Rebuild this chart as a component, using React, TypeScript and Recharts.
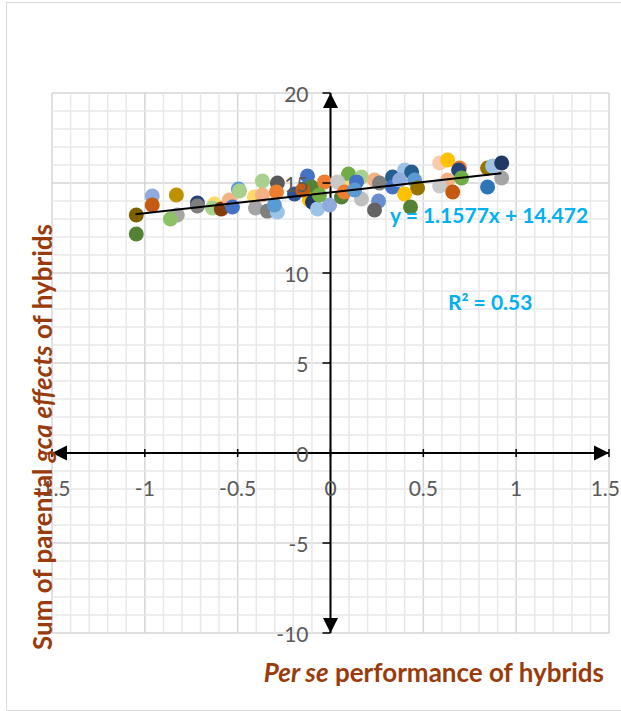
import { ScatterChart, Scatter, XAxis, YAxis, CartesianGrid, ReferenceLine, ReferenceDot } from "recharts";

// per se performance of each hybrid (x) and sum of parental gca effects (y)
const xValues = [
    -1.046, -1.046, -0.96, -0.96, -0.83, -0.825, -0.862, -0.717, -0.717, -0.625,
    -0.636, -0.588, -0.544, -0.528, -0.496, -0.49, -0.367, -0.286, -0.41, -0.367,
    -0.404, -0.34, -0.286, -0.302, -0.291, -0.194, -0.124, -0.102, -0.032, -0.113,
    -0.097, -0.07, -0.005, 0.097, 0.167, 0.097, 0.038, 0.059, 0.167, 0.14,
    0.237, 0.264, 0.259, 0.237, 0.334, 0.399, 0.437, 0.334, 0.372, 0.453,
    0.469, 0.399, 0.431, 0.588, 0.631, 0.695, 0.69, 0.631, 0.588, 0.658,
    0.846, 0.873, 0.922, 0.922, 0.846, -0.06, -0.15, 0.075, 0.13, 0.706
];
const yValues = [
    13.22, 12.17, 14.28, 13.78, 14.33, 13.22, 13.0, 13.89, 13.72, 13.83,
    13.61, 13.56, 14.06, 13.67, 14.67, 14.56, 15.11, 15.0, 14.22, 14.33,
    13.61, 13.44, 13.39, 13.78, 14.5, 14.39, 15.39, 14.78, 15.06, 14.06,
    13.94, 13.56, 13.78, 15.5, 15.33, 14.72, 15.06, 14.22, 14.11, 15.06,
    15.17, 15.0, 14.0, 13.5, 15.33, 15.72, 15.61, 14.78, 15.17, 15.17,
    14.72, 14.39, 13.67, 16.11, 16.28, 15.83, 15.72, 15.17, 14.83, 14.5,
    15.83, 15.94, 16.11, 15.28, 14.78, 14.33, 14.61, 14.5, 14.61, 15.28
];
const pointColors = [
    "#7F6000", "#548235", "#8FAADC", "#C55A11", "#BF9000", "#A5A5A5", "#8CC168", "#264478", "#7F7F7F", "#FFD966",
    "#A9D18E", "#843C0C", "#F4B183", "#4472C4", "#5B9BD5", "#A9D18E", "#A9D18E", "#595959", "#FFD966", "#F4B183",
    "#A5A5A5", "#7F7F7F", "#9DC3E6", "#5B9BD5", "#ED7D31", "#2F5597", "#4472C4", "#548235", "#ED7D31", "#FFC000",
    "#203864", "#9DC3E6", "#8FAADC", "#70AD47", "#A9D18E", "#FFD966", "#C9C9C9", "#548235", "#BFBFBF", "#4472C4",
    "#F4B183", "#7F7F7F", "#698ED0", "#636363", "#255E91", "#9DC3E6", "#255E91", "#4472C4", "#8FAADC", "#5B9BD5",
    "#997300", "#FFC000", "#548235", "#F8CBAD", "#FFC000", "#ED7D31", "#264478", "#F4B183", "#C9C9C9", "#C55A11",
    "#997300", "#9DC3E6", "#203864", "#A5A5A5", "#2E75B6", "#70AD47", "#C55A11", "#ED7D31", "#5B9BD5", "#70AD47"
];

const trendX = [-1.05, 0.92];
const trendY = [13.26, 15.54];

const xTicks = [-1.5, -1, -0.5, 0, 0.5, 1, 1.5];
const xTickLabels = ["-1.5", "-1", "-0.5", "0", "0.5", "1", "1.5"];
const yTicks = [-10, -5, 0, 5, 10, 15, 20];
const yTickLabels = ["-10", "-5", "0", "5", "10", "15", "20"];
const xMinorTicks = [
    -1.4, -1.3, -1.2, -1.1, -0.9, -0.8, -0.7, -0.6, -0.4, -0.3, -0.2, -0.1,
    0.1, 0.2, 0.3, 0.4, 0.6, 0.7, 0.8, 0.9, 1.1, 1.2, 1.3, 1.4
];
const yMinorTicks = [
    -9, -8, -7, -6, -4, -3, -2, -1, 1, 2, 3, 4, 6, 7, 8, 9,
    11, 12, 13, 14, 16, 17, 18, 19
];

const points = xValues.map((x, i) => ({ x, y: yValues[i], color: pointColors[i] }));
const trendPoints = trendX.map((x, i) => ({ x, y: trendY[i] }));

const FONT = "Lato, 'Open Sans', sans-serif";
const TITLE_COLOR = "#9A3B0C";
const TICK_COLOR = "#595959";

const arrow = (dir: string) => (p: any) => {
    const { cx, cy } = p;
    const s = 15;
    const h = 7.5;
    let pts = "";
    if (dir === "up") pts = `${cx},${cy} ${cx - h},${cy + s} ${cx + h},${cy + s}`;
    if (dir === "down") pts = `${cx},${cy} ${cx - h},${cy - s} ${cx + h},${cy - s}`;
    if (dir === "left") pts = `${cx},${cy} ${cx + s},${cy - h} ${cx + s},${cy + h}`;
    if (dir === "right") pts = `${cx},${cy} ${cx - s},${cy - h} ${cx - s},${cy + h}`;
    return <polygon points={pts} fill="#000" />;
};

export default function App() {
    return (
        <div style={{ position: "absolute", left: 0, top: 0, width: 621, height: 711, background: "#fff", overflow: "hidden" }}>
            <div style={{ position: "absolute", left: 6, top: 2, width: 640, height: 707, border: "1.5px solid #D9D9D9" }} />
            <div style={{ position: "absolute", left: 0, top: 0 }}>
                <ScatterChart width={621} height={711} margin={{ top: 93, right: 12, bottom: 78, left: 52 }}>
                    <XAxis type="number" dataKey="x" domain={[-1.5, 1.5]} ticks={xTicks} interval={0} hide allowDataOverflow />
                    <YAxis type="number" dataKey="y" domain={[-10, 20]} ticks={yTicks} interval={0} hide allowDataOverflow />
                    {xMinorTicks.map((t) => (
                        <ReferenceLine key={"xm" + t} x={t} stroke="#E8E8E8" strokeWidth={1.5} />
                    ))}
                    {yMinorTicks.map((t) => (
                        <ReferenceLine key={"ym" + t} y={t} stroke="#E8E8E8" strokeWidth={1.5} />
                    ))}
                    <CartesianGrid stroke="#D6D6D6" strokeWidth={1.5} />
                    <Scatter
                        data={points}
                        isAnimationActive={false}
                        shape={(p: any) => <circle cx={p.cx} cy={p.cy} r={7.5} fill={p.payload.color} />}
                    />
                    <Scatter
                        data={trendPoints}
                        isAnimationActive={false}
                        line={{ stroke: "#000", strokeWidth: 2 }}
                        shape={() => <g />}
                    />
                    <ReferenceLine y={0} stroke="#000" strokeWidth={2} />
                    <ReferenceLine x={0} stroke="#000" strokeWidth={2} />
                    {xTicks.map((t, i) => (
                        <ReferenceDot
                            key={"xt" + t}
                            x={t}
                            y={0}
                            shape={(p: any) => {
                                const last = i === xTicks.length - 1;
                                return (
                                    <g>
                                        <line x1={p.cx} x2={p.cx} y1={p.cy - 4} y2={p.cy + 4} stroke="#000" strokeWidth={1.5} />
                                        <text
                                            x={last ? 620 : p.cx}
                                            y={p.cy + 34}
                                            textAnchor={last ? "end" : "middle"}
                                            dominantBaseline="central"
                                            fill={TICK_COLOR}
                                            fontSize={21}
                                            fontFamily={FONT}
                                        >
                                            {xTickLabels[i]}
                                        </text>
                                    </g>
                                );
                            }}
                        />
                    ))}
                    {yTicks.map((t, i) => (
                        <ReferenceDot
                            key={"yt" + t}
                            x={0}
                            y={t}
                            shape={(p: any) => (
                                <g>
                                    <line x1={p.cx - 8} x2={p.cx} y1={p.cy} y2={p.cy} stroke="#000" strokeWidth={1.5} />
                                    <text x={p.cx - 22} y={p.cy} textAnchor="end" dominantBaseline="central" fill={TICK_COLOR} fontSize={21} fontFamily={FONT}>
                                        {yTickLabels[i]}
                                    </text>
                                </g>
                            )}
                        />
                    ))}
                    <ReferenceDot x={-1.5} y={0} shape={arrow("left")} />
                    <ReferenceDot x={1.5} y={0} shape={arrow("right")} />
                    <ReferenceDot x={0} y={20} shape={arrow("up")} />
                    <ReferenceDot x={0} y={-10} shape={arrow("down")} />
                </ScatterChart>
            </div>
            <div style={{ position: "absolute", left: 390, top: 201, fontFamily: FONT, fontWeight: 700, fontSize: 21, color: "#00B0F0", whiteSpace: "nowrap", lineHeight: "28px" }}>
                y = 1.1577x + 14.472
            </div>
            <div style={{ position: "absolute", left: 448, top: 288, fontFamily: FONT, fontWeight: 700, fontSize: 21, color: "#00B0F0", whiteSpace: "nowrap", lineHeight: "28px" }}>
                R² = 0.53
            </div>
            <div style={{ position: "absolute", right: 17, top: 655, fontFamily: FONT, fontWeight: 700, fontSize: 26, color: TITLE_COLOR, whiteSpace: "nowrap", lineHeight: "34px" }}>
                <i>Per se</i> performance of hybrids
            </div>
            <div
                style={{
                    position: "absolute",
                    left: 42,
                    top: 437,
                    transform: "translate(-50%, -50%) rotate(-90deg)",
                    fontFamily: FONT,
                    fontWeight: 700,
                    fontSize: 26,
                    color: TITLE_COLOR,
                    whiteSpace: "nowrap",
                    lineHeight: "34px"
                }}
            >
                Sum of parental <i>gca effects</i> of hybrids
            </div>
        </div>
    );
}
